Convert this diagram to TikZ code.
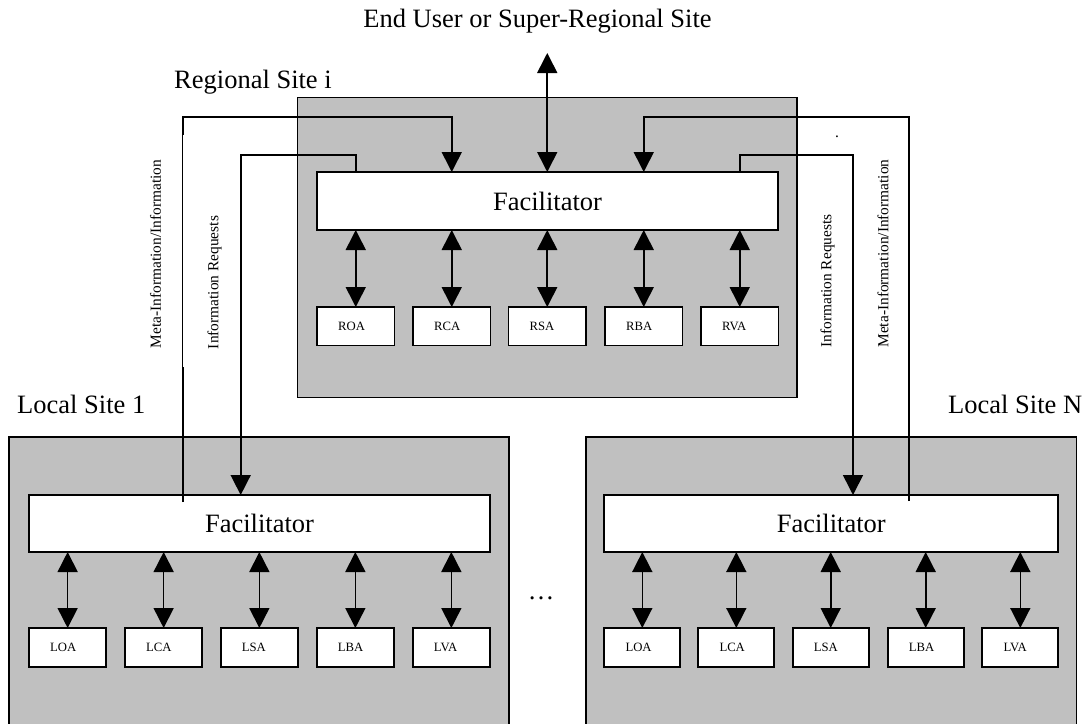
\documentclass[tikz,border=0pt]{standalone}
\usepackage{fontspec}
\setmainfont{Liberation Serif}
\usetikzlibrary{arrows.meta}
\definecolor{sitegray}{HTML}{C0C0C0}
\tikzset{
  sitebox/.style={draw, fill=sitegray, line width=1.8pt, inner sep=0pt, outer sep=0pt, anchor=north west},
  facbox/.style={draw, fill=white, line width=1.8pt, inner sep=0pt, outer sep=0pt, anchor=north west,
    font=\fontsize{26.5}{30}\selectfont},
  agbox/.style={draw, fill=white, line width=1.8pt, inner sep=0pt, outer sep=0pt, anchor=north west},
  aglabel/.style={anchor=west, inner sep=0pt, font=\fontsize{12.7}{14}\selectfont},
  biglabel/.style={anchor=base west, inner sep=0pt, font=\fontsize{26.5}{30}\selectfont},
  vlabel/.style={rotate=90, inner sep=0pt, font=\fontsize{15.4}{17}\selectfont},
  conn/.style={line width=1.6pt},
  thinconn/.style={line width=0.8pt},
}
\begin{document}
\begin{tikzpicture}[x=1pt, y=-1pt, >={Triangle[length=20pt,width=20pt]}]
\useasboundingbox (0,0) rectangle (1091,723);

% texts
\node[anchor=base, inner sep=0pt, font=\fontsize{26.5}{30}\selectfont] (title) at (537.5,27) {End User or Super-Regional Site};
\node[biglabel] (reglabel) at (174,88) {Regional Site i};
\node[biglabel] (loc1label) at (17,413) {Local Site 1};
\node[biglabel] (locNlabel) at (948,413) {Local Site N};

% site boxes
\node[sitebox, minimum width=499.5pt, minimum height=300pt] (reg) at (297.5,97.5) {};
\node[sitebox, minimum width=499.4pt, minimum height=300pt] (loc1) at (9.3,437) {};
\node[sitebox, minimum width=490.5pt, minimum height=300pt] (locN) at (586,437) {};

% facilitators
\node[facbox, minimum width=461pt, minimum height=58pt] (regfac) at (317,172) {Facilitator};
\node[facbox, minimum width=461pt, minimum height=57pt] (fac1) at (29,495) {Facilitator};
\node[facbox, minimum width=454pt, minimum height=57pt] (facN) at (604.3,495) {Facilitator};

% regional agents
\foreach \n/\x/\t in {roa/317/ROA, rca/413/RCA, rsa/508.5/RSA, rba/605/RBA, rva/701/RVA} {
  \node[agbox, minimum width=77.5pt, minimum height=38.5pt] (\n) at (\x,307) {};
  \node[aglabel] (\n l) at ([xshift=21pt]\n.west) {\t};
  \draw[conn,<->] (\n.north |- regfac.south) -- (\n.north);
}
% local site 1 agents
\foreach \n/\x/\t in {loa1/29/LOA, lca1/125/LCA, lsa1/220.7/LSA, lba1/316.7/LBA, lva1/412.7/LVA} {
  \node[agbox, minimum width=77.3pt, minimum height=39pt] (\n) at (\x,628) {};
  \node[aglabel] (\n l) at ([xshift=21pt]\n.west) {\t};
  \draw[conn,<->] (\n.north |- fac1.south) -- (\n.north);
}
% local site N agents
\foreach \n/\x/\t in {loaN/604.3/LOA, lcaN/698.3/LCA, lsaN/792.7/LSA, lbaN/887.7/LBA, lvaN/982.3/LVA} {
  \node[agbox, minimum width=76pt, minimum height=39pt] (\n) at (\x,628) {};
  \node[aglabel] (\n l) at ([xshift=21pt]\n.west) {\t};
  \draw[conn,<->] (\n.north |- facN.south) -- (\n.north);
}

% connector coordinates
\coordinate (metalevel) at (0,117);
\coordinate (infolevel) at (0,155);
\coordinate (eu) at (547.25,53);
\coordinate (m1s) at (182.7,502);
\coordinate (m1b) at (182.7,367);
\coordinate (m1c) at (182.7,135);
\coordinate (i1end) at (240.7,495);
\coordinate (mNs) at (909,501);
\coordinate (iNend) at (853,495);

% end user arrow
\draw[conn,<->] (eu) -- (rsa |- regfac.north);

% left side connectors
\draw[conn,->] (roa |- regfac.north) -- (roa |- infolevel) -| (i1end);
\draw[conn] (m1s) -- (m1b);
\draw[thinconn] (m1b) -- (m1c);
\draw[conn,->] (m1c) -- (m1c |- metalevel) -| (rca |- regfac.north);

% right side connectors
\draw[conn,->] (rva |- regfac.north) -- (rva |- infolevel) -| (iNend);
\draw[conn,->] (mNs) -- (mNs |- metalevel) -| (rba |- regfac.north);

% vertical labels
\node[vlabel] (meta1) at (155.5,254) {Meta-Information/Information};
\node[vlabel] (info1) at (214.5,282.5) {Information Requests};
\node[vlabel] (infoN) at (827.5,281) {Information Requests};
\node[vlabel] (metaN) at (883,253.5) {Meta-Information/Information};

% stray marks
\node[anchor=base, inner sep=0pt, font=\fontsize{15.4}{17}\selectfont] (dot) at (837,137.5) {.};
\node[anchor=base, inner sep=0pt, font=\fontsize{26.5}{30}\selectfont] (ellipsis) at (541,599.5) {…};
\end{tikzpicture}
\end{document}
